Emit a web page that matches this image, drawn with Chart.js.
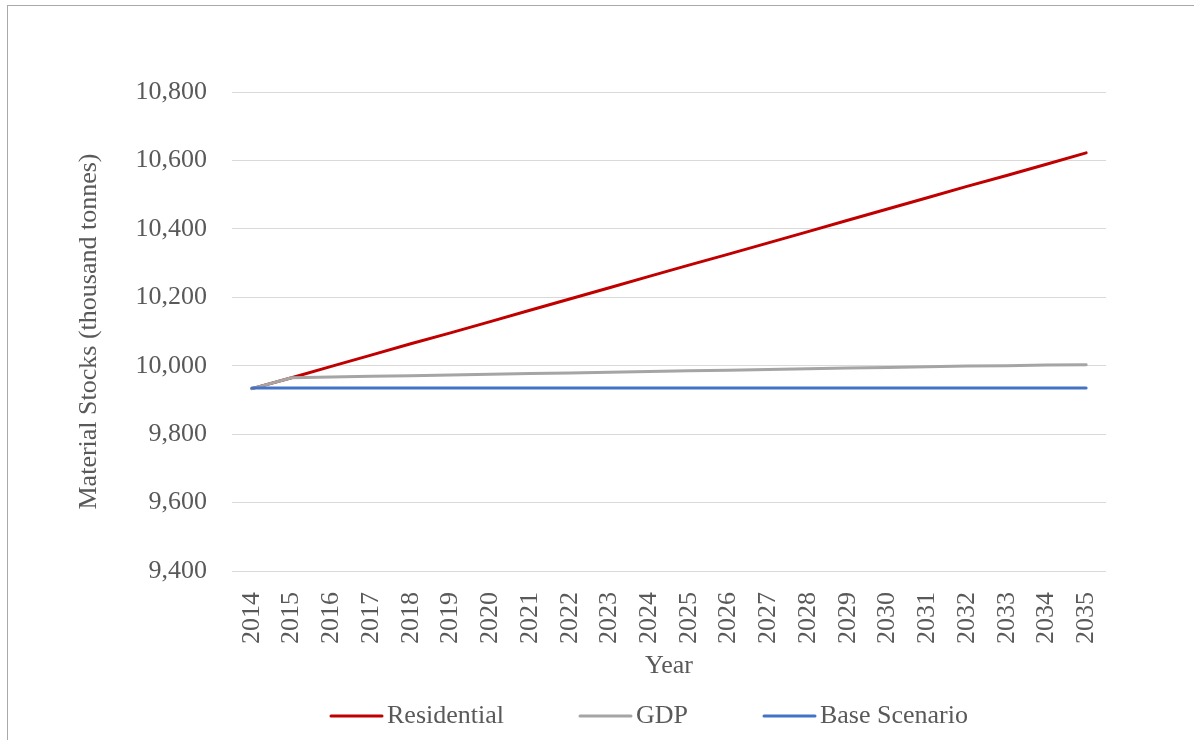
<!DOCTYPE html>
<html>
<head>
<meta charset="utf-8">
<script src="https://cdn.jsdelivr.net/npm/chart.js@4/dist/chart.umd.min.js"></script>
<style>
  html, body { margin: 0; padding: 0; background: #ffffff; overflow: hidden; }
  #wrap { position: relative; width: 1194px; height: 740px; }
  #frame { position: absolute; left: 7px; top: 5px; width: 1400px; height: 900px;
           border-left: 1px solid #a9a9a9; border-top: 1px solid #a9a9a9; }
  canvas { position: absolute; left: 0; top: 0; }
</style>
</head>
<body>
<div id="wrap">
  <div id="frame"></div>
  <canvas id="chart" width="1194" height="740"></canvas>
</div>
<script>
// Material stocks projections, thousand tonnes
const years = ['2014','2015','2016','2017','2018','2019','2020','2021','2022','2023','2024',
               '2025','2026','2027','2028','2029','2030','2031','2032','2033','2034','2035'];

const residential = [9933, 9965, 9998, 10031, 10064, 10096, 10129, 10162, 10195, 10228, 10261,
                     10294, 10326, 10359, 10392, 10425, 10458, 10491, 10524, 10556, 10589, 10622];

const gdp = [9933, 9965, 9967, 9969, 9971, 9973, 9975, 9977, 9979, 9981, 9983,
             9985, 9987, 9989, 9991, 9993, 9995, 9997, 9999, 10000, 10002, 10003];

const baseScenario = [9935, 9935, 9935, 9935, 9935, 9935, 9935, 9935, 9935, 9935, 9935,
                      9935, 9935, 9935, 9935, 9935, 9935, 9935, 9935, 9935, 9935, 9935];

const yTicks = [9400, 9600, 9800, 10000, 10200, 10400, 10600, 10800];

const seriesNames = ['Residential', 'GDP', 'Base Scenario'];
const seriesColors = ['#C00000', '#A5A5A5', '#4472C4'];

const FONT = '"Liberation Serif", "Times New Roman", serif';
const TEXT = '#595959';

// Legend row drawn under the axis title
const bottomLegend = {
  id: 'bottomLegend',
  afterDraw(chart) {
    const ctx = chart.ctx;
    const lineLen = 53, gapText = 4, gapItem = 75;
    ctx.save();
    ctx.font = '26px ' + FONT;
    const sets = chart.data.datasets.slice().sort((a, b) => a.legendIndex - b.legendIndex);
    const widths = sets.map(ds => lineLen + gapText + ctx.measureText(ds.label).width);
    const total = widths.reduce((s, w) => s + w, 0) + gapItem * (sets.length - 1);
    const ca = chart.chartArea;
    const cx = (ca.left + ca.right) / 2 - 20;
    let x = cx - total / 2;
    const y = 716;
    sets.forEach((ds, i) => {
      ctx.strokeStyle = ds.borderColor;
      ctx.lineWidth = 3;
      ctx.lineCap = 'round';
      ctx.beginPath();
      ctx.moveTo(x + 1, y);
      ctx.lineTo(x + lineLen - 1, y);
      ctx.stroke();
      ctx.fillStyle = TEXT;
      ctx.textBaseline = 'middle';
      ctx.textAlign = 'left';
      ctx.fillText(ds.label, x + lineLen + gapText, y);
      x += widths[i] + gapItem;
    });
    ctx.restore();
  }
};

const seriesData = [residential, gdp, baseScenario];
const datasets = seriesData.map((d, i) => ({
  label: seriesNames[i],
  data: d,
  borderColor: seriesColors[i],
  backgroundColor: seriesColors[i],
  borderWidth: 3,
  borderCapStyle: 'round',
  borderJoinStyle: 'round',
  pointRadius: 0,
  pointHoverRadius: 0,
  tension: 0,
  fill: false,
  legendIndex: i,
  order: seriesData.length - 1 - i
}));

new Chart(document.getElementById('chart'), {
  type: 'line',
  data: { labels: years, datasets },
  plugins: [bottomLegend],
  options: {
    responsive: false,
    animation: false,
    devicePixelRatio: 1,
    layout: { padding: { left: 0, right: 88, top: 92, bottom: 58 } },
    plugins: {
      legend: { display: false },
      tooltip: { enabled: false }
    },
    scales: {
      x: {
        offset: true,
        grid: { display: false },
        border: { display: false },
        ticks: {
          autoSkip: false,
          maxRotation: 90,
          minRotation: 90,
          padding: 13,
          color: TEXT,
          font: { family: FONT, size: 26 }
        },
        title: {
          display: true,
          text: 'Year',
          color: TEXT,
          font: { family: FONT, size: 26 },
          padding: { top: 0, bottom: 0 }
        },
        afterFit(scale) { scale.height = 111; }
      },
      y: {
        min: 9400,
        max: 10800,
        afterBuildTicks(scale) { scale.ticks = yTicks.map(v => ({ value: v })); },
        grid: { color: '#D9D9D9', lineWidth: 1, drawTicks: false },
        border: { display: false },
        ticks: {
          padding: 25,
          color: TEXT,
          font: { family: FONT, size: 26 },
          callback: v => v.toLocaleString('en-US')
        },
        title: {
          display: true,
          text: 'Material Stocks (thousand tonnes)',
          color: TEXT,
          font: { family: FONT, size: 26 },
          padding: { top: 74, bottom: 0 }
        },
        afterFit(scale) { scale.width = 232; }
      }
    }
  }
});
</script>
</body>
</html>
